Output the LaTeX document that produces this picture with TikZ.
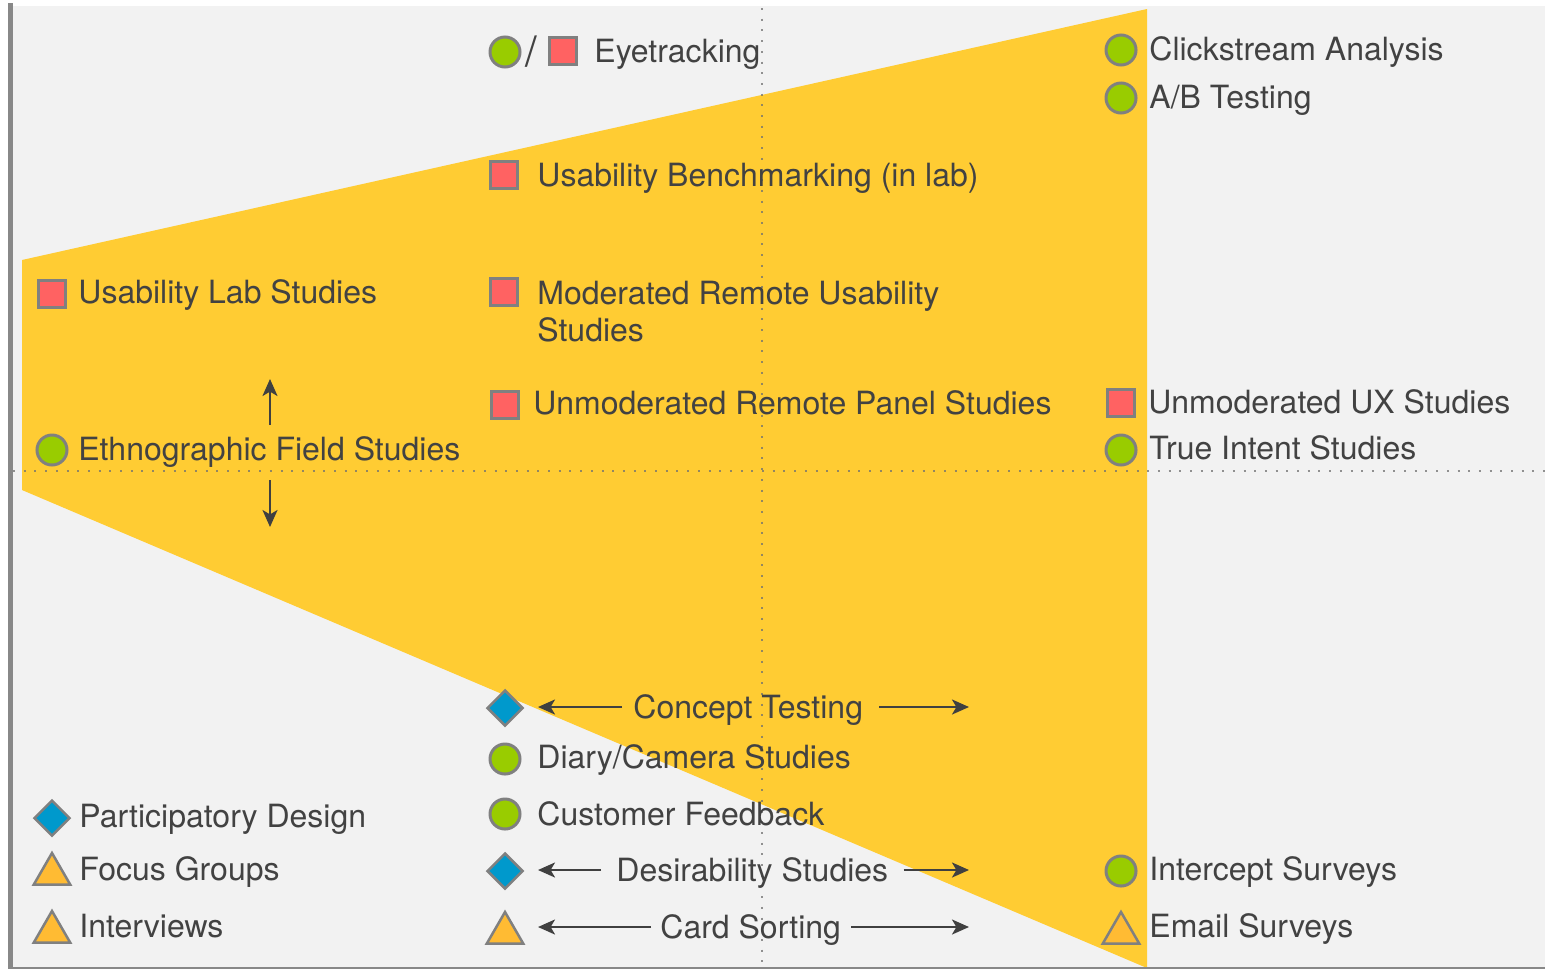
\documentclass[tikz,border=0pt]{standalone}
\usepackage{fontspec}
\setmainfont{TeX Gyre Heros}
\usetikzlibrary{shapes.geometric,arrows.meta}
\definecolor{panel}{HTML}{F2F2F2}
\definecolor{funnel}{HTML}{FFCC33}
\definecolor{frame}{HTML}{888888}
\definecolor{ink}{HTML}{424242}
\definecolor{mkGreen}{HTML}{99CC00}
\definecolor{mkRed}{HTML}{FF6262}
\definecolor{mkBlue}{HTML}{0099CC}
\definecolor{mkOrange}{HTML}{FFBB33}
\definecolor{mkEdge}{HTML}{808080}
\definecolor{arrowInk}{HTML}{404040}
\definecolor{guideInk}{HTML}{707070}

\begin{document}
\begin{tikzpicture}[x=0.5pt,y=-0.5pt,
  lbl/.style={inner sep=0pt, anchor=west, text=ink,
    font=\fontsize{16pt}{18.5pt}\selectfont, text height=11.46pt, text depth=0pt},
  lbltwo/.style={inner sep=0pt, anchor=north west, text=ink, align=left,
    font=\fontsize{16pt}{18.5pt}\selectfont},
  mk/.style={draw=mkEdge, inner sep=0pt, outer sep=0pt},
  quant/.style={mk, circle, fill=mkGreen, minimum size=15pt, line width=1.5pt},
  labmk/.style={mk, rectangle, fill=mkRed, minimum size=13.5pt, line width=1.25pt},
  dia/.style={mk, diamond, aspect=1, fill=mkBlue, minimum size=17.5pt, line width=1.25pt},
  tri/.style={mk, regular polygon, regular polygon sides=3, fill=mkOrange,
    minimum size=21pt, line width=1.25pt},
  arr/.style={draw=arrowInk, line width=1.2pt,
    -{Stealth[length=8.5pt,width=7.5pt,inset=2.2pt]}},
  guide/.style={draw=guideInk, draw opacity=0.75, line width=1pt,
    dash pattern=on 1pt off 4.35pt}
]
\useasboundingbox (0,0) rectangle (1550,970);

% background panel and frame
\fill[panel] (13,6) rectangle (1545,968);
\fill[frame] (8,3) rectangle (12.5,968);

% funnel
\fill[funnel] (22,260) -- (1147,9) -- (1147,968) -- (22,490) -- cycle;

% dotted axes
\draw[guide] (13,471) -- (1545,471);
\draw[guide] (762,8) -- (762,968);

\draw[frame, line width=0.8pt] (8,968) -- (1545,968);

% top row
\node[quant] (etC) at (505,52) {};
\node[inner sep=0pt, text=ink, font=\fontsize{21pt}{24pt}\selectfont] (etS) at (531,52) {/};
\node[labmk] (etR) at (563,51) {};
\node[lbl] (et) at (594,51) {Eyetracking};

\node[quant] (csaM) at (1121,50) {};
\node[lbl] (csa) at (1149,49) {Clickstream Analysis};
\node[quant] (abM) at (1121,98) {};
\node[lbl] (ab) at (1149,97) {A/B Testing};

\node[labmk] (ubM) at (504,175) {};
\node[lbl] (ub) at (537,175) {Usability Benchmarking (in lab)};

\node[labmk] (ulM) at (52,294) {};
\node[lbl] (ul) at (78,292) {Usability Lab Studies};

\node[labmk] (mrM) at (504,292) {};
\node[lbltwo] (mr) at (537,280.5) {Moderated Remote Usability\\Studies};

\node[labmk] (urM) at (505,405) {};
\node[lbl] (ur) at (533,403) {Unmoderated Remote Panel Studies};

\node[labmk] (uxM) at (1121,403) {};
\node[lbl] (ux) at (1148,402) {Unmoderated UX Studies};

\node[quant] (efM) at (52,450) {};
\node[lbl] (ef) at (78,449) {Ethnographic Field Studies};

\node[quant] (tiM) at (1121,450) {};
\node[lbl] (ti) at (1149,448) {True Intent Studies};

% vertical arrows
\coordinate (upTail) at (270,425);
\coordinate (upHead) at (270,379);
\coordinate (dnTail) at (270,480);
\coordinate (dnHead) at (270,527);
\draw[arr] (upTail) -- (upHead);
\draw[arr] (dnTail) -- (dnHead);

% lower rows
\node[dia] (ctM) at (505,708) {};
\node[lbl] (ct) at (633,707) {Concept Testing};
\coordinate (ctEnd) at (969,707);
\draw[arr, shorten <=5.5pt, shorten >=16.5pt] (ct.west) -- (ct.west -| ctM.center);
\draw[arr, shorten <=8pt] (ct.east) -- (ctEnd);

\node[quant] (dcM) at (505,759) {};
\node[lbl] (dc) at (537,757) {Diary/Camera Studies};

\node[quant] (cfM) at (505,814) {};
\node[lbl] (cf) at (537,814) {Customer Feedback};

\node[dia] (pdM) at (52,818) {};
\node[lbl] (pd) at (79,816) {Participatory Design};

\node[tri] (fgM) at (52,874) {};
\node[lbl] (fg) at (79,869) {Focus Groups};

\node[tri] (ivM) at (52,932) {};
\node[lbl] (iv) at (79,926) {Interviews};

\node[dia] (dsM) at (505,871) {};
\node[lbl] (ds) at (616,870) {Desirability Studies};
\coordinate (dsEnd) at (969,870);
\draw[arr, shorten <=7.5pt, shorten >=16.5pt] (ds.west) -- (ds.west -| dsM.center);
\draw[arr, shorten <=7.5pt] (ds.east) -- (dsEnd);

\node[tri] (csM) at (505,933) {};
\node[lbl] (cs) at (660,927) {Card Sorting};
\coordinate (csEnd) at (969,927);
\draw[arr, shorten <=4.5pt, shorten >=16.5pt] (cs.west) -- (cs.west -| csM.center);
\draw[arr, shorten <=5pt] (cs.east) -- (csEnd);

\node[quant] (isM) at (1121,871) {};
\node[lbl] (is) at (1149,869) {Intercept Surveys};

\node[tri] (esM) at (1121,933) {};
\node[lbl] (es) at (1149,926) {Email Surveys};

\end{tikzpicture}
\end{document}
